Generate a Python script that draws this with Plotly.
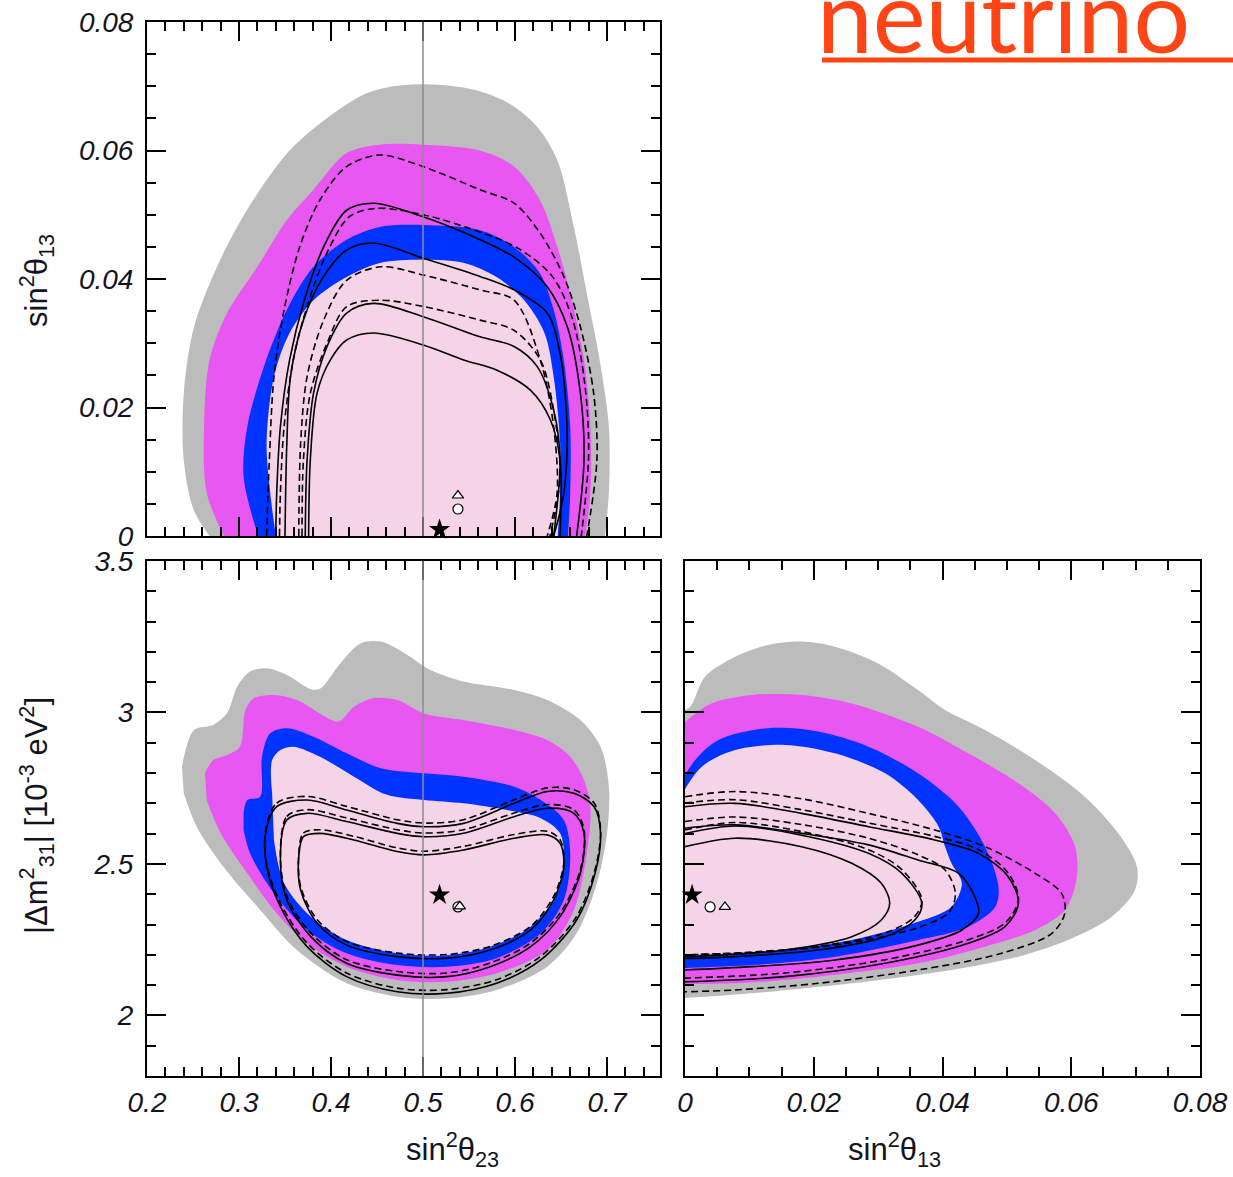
import plotly.graph_objects as go

# ---------------- colours ----------------
GRAY = "#bcbcbc"
MAGENTA = "#e957f2"
BLUE = "#0033ff"
PINK = "#f6d4e8"
LINE_GRAY = "#8c8c8c"
TITLE_RED = "#ff4416"

# ---------------- top-left panel: sin^2(theta23) vs sin^2(theta13) ----------------
tl_gray_x = [0.273, 0.251, 0.240, 0.240, 0.251, 0.278, 0.312, 0.355, 0.400, 0.440, 0.480, 0.520, 0.560, 0.595, 0.624, 0.646, 0.664, 0.678, 0.692, 0.702, 0.702, 0.697]
tl_gray_y = [-0.001, 0.004, 0.0118, 0.0223, 0.0325, 0.0425, 0.0515, 0.0600, 0.0655, 0.0690, 0.0702, 0.0702, 0.0693, 0.0672, 0.0637, 0.0585, 0.0481, 0.0378, 0.0274, 0.017, 0.0067, -0.001]
tl_mag_x = [0.287, 0.265, 0.262, 0.268, 0.287, 0.320, 0.352, 0.381, 0.417, 0.453, 0.500, 0.562, 0.599, 0.627, 0.646, 0.660, 0.675, 0.682, 0.682, 0.675]
tl_mag_y = [-0.001, 0.0067, 0.017, 0.0274, 0.0347, 0.0419, 0.0492, 0.0539, 0.0596, 0.0609, 0.0609, 0.060, 0.0575, 0.0523, 0.045, 0.0378, 0.0274, 0.017, 0.0067, -0.001]
tl_blue_x = [0.323, 0.305, 0.309, 0.327, 0.352, 0.381, 0.417, 0.453, 0.500, 0.562, 0.599, 0.627, 0.642, 0.653, 0.660, 0.660, 0.657]
tl_blue_y = [-0.001, 0.0092, 0.017, 0.0263, 0.0352, 0.0419, 0.0461, 0.0481, 0.0484, 0.0476, 0.045, 0.0409, 0.0352, 0.0274, 0.017, 0.0067, -0.001]
tl_pink_x = [0.341, 0.334, 0.330, 0.338, 0.355, 0.381, 0.417, 0.453, 0.500, 0.545, 0.580, 0.610, 0.632, 0.642, 0.649, 0.649, 0.646]
tl_pink_y = [-0.001, 0.0067, 0.0145, 0.0248, 0.0316, 0.0367, 0.0403, 0.0425, 0.043, 0.0425, 0.0403, 0.0367, 0.0316, 0.0248, 0.0145, 0.0067, -0.001]

# contour lines
tl_c1_x = [0.330, 0.333, 0.338, 0.349, 0.366, 0.388, 0.417, 0.453, 0.500, 0.562, 0.599, 0.6275, 0.653, 0.671, 0.6855, 0.689, 0.678]
tl_c1_y = [0.0, 0.0118, 0.0248, 0.0352, 0.045, 0.0523, 0.0575, 0.0593, 0.0575, 0.0539, 0.0518, 0.0471, 0.0404, 0.0326, 0.0222, 0.0118, 0.0]
tl_c2_x = [0.340, 0.341, 0.345, 0.355, 0.371, 0.392, 0.417, 0.447, 0.500, 0.545, 0.599, 0.635, 0.657, 0.671, 0.675, 0.667]
tl_c2_y = [0.0, 0.0067, 0.017, 0.0274, 0.0367, 0.045, 0.0507, 0.0518, 0.0497, 0.0472, 0.0434, 0.0388, 0.0325, 0.0223, 0.0118, 0.0]
tl_c2d_x = [0.344, 0.345, 0.349, 0.359, 0.375, 0.396, 0.420, 0.449, 0.500, 0.548, 0.603, 0.640, 0.662, 0.676, 0.680, 0.672]
tl_c2d_y = [0.0, 0.0067, 0.017, 0.0274, 0.0362, 0.0442, 0.0497, 0.0510, 0.0500, 0.0480, 0.0448, 0.0405, 0.0340, 0.0235, 0.0125, 0.0]
tl_c3_x = [0.350, 0.352, 0.356, 0.370, 0.392, 0.417, 0.446, 0.501, 0.562, 0.599, 0.635, 0.649, 0.6565, 0.653, 0.642]
tl_c3_y = [0.0, 0.0144, 0.0248, 0.0336, 0.0404, 0.0445, 0.0456, 0.0432, 0.0404, 0.0383, 0.0347, 0.0284, 0.017, 0.0066, 0.0]
tl_c4_x = [0.365, 0.367, 0.374, 0.392, 0.417, 0.454, 0.501, 0.562, 0.599, 0.6275, 0.642, 0.6457, 0.635]
tl_c4_y = [0.0, 0.0144, 0.0248, 0.0336, 0.0398, 0.0419, 0.0406, 0.0383, 0.0367, 0.0274, 0.017, 0.0066, 0.0]
tl_c5_x = [0.3685, 0.370, 0.3775, 0.3957, 0.417, 0.4536, 0.501, 0.562, 0.599, 0.6275, 0.642, 0.649, 0.638]
tl_c5_y = [0.0, 0.0118, 0.0222, 0.030, 0.0357, 0.0367, 0.0357, 0.0336, 0.032, 0.0274, 0.0196, 0.0092, 0.0]
tl_c6_x = [0.372, 0.374, 0.381, 0.3957, 0.417, 0.4464, 0.501, 0.562, 0.599, 0.624, 0.642, 0.649, 0.642]
tl_c6_y = [0.0, 0.0118, 0.0222, 0.0295, 0.0347, 0.0362, 0.0341, 0.031, 0.0295, 0.0264, 0.0196, 0.0118, 0.0]
tl_c7_x = [0.3757, 0.3775, 0.3848, 0.3993, 0.417, 0.4464, 0.501, 0.5442, 0.5804, 0.6167, 0.6384, 0.649, 0.649]
tl_c7_y = [0.0, 0.0118, 0.0222, 0.0274, 0.0305, 0.0316, 0.0297, 0.0274, 0.0258, 0.0227, 0.0181, 0.0118, 0.0]

# ---------------- bottom-left panel: sin^2(theta23) vs |dm^2_31| ----------------
bl_gray_x = [0.238, 0.251, 0.272, 0.287, 0.298, 0.312, 0.330, 0.352, 0.378, 0.388, 0.410, 0.432, 0.454, 0.483, 0.508, 0.544, 0.599, 0.635, 0.671, 0.693, 0.702, 0.700, 0.689, 0.667, 0.635, 0.580, 0.526, 0.472, 0.417, 0.363, 0.320, 0.283, 0.254, 0.240]
bl_gray_y = [2.821, 2.942, 2.959, 2.998, 3.085, 3.135, 3.146, 3.124, 3.077, 3.078, 3.162, 3.228, 3.234, 3.19, 3.140, 3.102, 3.074, 3.041, 2.975, 2.887, 2.755, 2.601, 2.436, 2.271, 2.161, 2.084, 2.056, 2.062, 2.106, 2.216, 2.359, 2.491, 2.623, 2.733]
bl_mag_x = [0.263, 0.272, 0.287, 0.301, 0.307, 0.316, 0.338, 0.363, 0.388, 0.408, 0.425, 0.446, 0.472, 0.501, 0.544, 0.599, 0.635, 0.660, 0.675, 0.682, 0.678, 0.664, 0.635, 0.580, 0.526, 0.472, 0.417, 0.374, 0.338, 0.309, 0.280, 0.265]
bl_mag_y = [2.799, 2.843, 2.860, 2.887, 3.008, 3.047, 3.058, 3.041, 2.997, 2.970, 3.019, 3.047, 3.041, 2.997, 2.975, 2.942, 2.909, 2.854, 2.777, 2.689, 2.535, 2.348, 2.216, 2.139, 2.111, 2.117, 2.161, 2.238, 2.348, 2.469, 2.601, 2.711]
bl_blue_x = [0.305, 0.309, 0.323, 0.325, 0.334, 0.352, 0.381, 0.417, 0.454, 0.501, 0.544, 0.599, 0.628, 0.653, 0.660, 0.653, 0.628, 0.580, 0.526, 0.472, 0.417, 0.374, 0.338, 0.312, 0.305]
bl_blue_y = [2.667, 2.711, 2.722, 2.854, 2.931, 2.948, 2.920, 2.865, 2.816, 2.799, 2.788, 2.755, 2.711, 2.645, 2.535, 2.381, 2.271, 2.189, 2.161, 2.166, 2.205, 2.282, 2.403, 2.535, 2.612]
bl_pink_x = [0.336, 0.336, 0.345, 0.359, 0.388, 0.425, 0.461, 0.501, 0.544, 0.591, 0.628, 0.649, 0.653, 0.646, 0.617, 0.573, 0.526, 0.472, 0.417, 0.378, 0.349, 0.338]
bl_pink_y = [2.733, 2.843, 2.876, 2.887, 2.854, 2.788, 2.728, 2.711, 2.700, 2.678, 2.651, 2.601, 2.513, 2.403, 2.293, 2.227, 2.199, 2.205, 2.249, 2.326, 2.436, 2.579]

bl_l1_x = [0.329, 0.341, 0.374, 0.417, 0.472, 0.501, 0.544, 0.599, 0.635, 0.664, 0.686, 0.693, 0.687, 0.667, 0.628, 0.580, 0.526, 0.472, 0.417, 0.374, 0.345, 0.330, 0.329]
bl_l1_y = [2.601, 2.689, 2.711, 2.678, 2.634, 2.623, 2.634, 2.700, 2.739, 2.733, 2.689, 2.601, 2.469, 2.315, 2.183, 2.106, 2.073, 2.078, 2.128, 2.227, 2.359, 2.491, 2.601]
bl_l2_x = [0.345, 0.352, 0.374, 0.417, 0.472, 0.501, 0.544, 0.599, 0.635, 0.664, 0.675, 0.671, 0.649, 0.617, 0.573, 0.526, 0.472, 0.417, 0.378, 0.352, 0.345]
bl_l2_y = [2.513, 2.645, 2.667, 2.640, 2.601, 2.590, 2.601, 2.656, 2.684, 2.667, 2.601, 2.469, 2.326, 2.227, 2.161, 2.128, 2.133, 2.172, 2.260, 2.381, 2.513]
bl_l3_x = [0.365, 0.370, 0.388, 0.425, 0.472, 0.501, 0.544, 0.599, 0.635, 0.649, 0.653, 0.642, 0.617, 0.573, 0.526, 0.472, 0.417, 0.385, 0.367, 0.365]
bl_l3_y = [2.524, 2.590, 2.601, 2.579, 2.541, 2.530, 2.546, 2.585, 2.596, 2.568, 2.491, 2.381, 2.282, 2.216, 2.189, 2.194, 2.232, 2.304, 2.414, 2.524]

# ---------------- bottom-right panel: sin^2(theta13) vs |dm^2_31| ----------------
br_gray_x = [-0.001, 0.0008, 0.0031, 0.0078, 0.0129, 0.0181, 0.0233, 0.030, 0.0362, 0.0404, 0.0466, 0.0544, 0.0621, 0.0673, 0.0702, 0.0699, 0.0663, 0.0595, 0.0518, 0.0414, 0.0259, 0.0104, -0.001]
br_gray_y = [3.00, 3.019, 3.118, 3.184, 3.223, 3.234, 3.217, 3.162, 3.074, 3.008, 2.942, 2.843, 2.722, 2.601, 2.491, 2.414, 2.326, 2.249, 2.194, 2.150, 2.106, 2.073, 2.056]
br_mag_x = [-0.001, 0.001, 0.0041, 0.0104, 0.0181, 0.0259, 0.0362, 0.044, 0.0518, 0.0575, 0.0606, 0.0608, 0.059, 0.0544, 0.0466, 0.0362, 0.0207, 0.0078, -0.001]
br_mag_y = [2.95, 2.986, 3.030, 3.058, 3.058, 3.030, 2.953, 2.865, 2.766, 2.667, 2.557, 2.447, 2.348, 2.282, 2.227, 2.172, 2.128, 2.106, 2.104]
br_blue_x = [-0.001, 0.0016, 0.0052, 0.0129, 0.0207, 0.0285, 0.0362, 0.0425, 0.0466, 0.0487, 0.0482, 0.044, 0.0362, 0.0233, 0.0104, -0.001]
br_blue_y = [2.755, 2.843, 2.909, 2.948, 2.937, 2.887, 2.799, 2.689, 2.557, 2.425, 2.359, 2.293, 2.249, 2.194, 2.166, 2.156]
br_pink_x = [-0.001, 0.0026, 0.0078, 0.0155, 0.0233, 0.0311, 0.0362, 0.0394, 0.0404, 0.0414, 0.043, 0.0414, 0.0362, 0.0259, 0.0129, -0.001]
br_pink_y = [2.711, 2.821, 2.876, 2.893, 2.865, 2.799, 2.711, 2.623, 2.557, 2.502, 2.436, 2.359, 2.309, 2.249, 2.210, 2.194]

br_a_x = [0.0, 0.0078, 0.0181, 0.0285, 0.0388, 0.0466, 0.0544, 0.0585, 0.059, 0.057, 0.0492, 0.0362, 0.0207, 0.0078, 0.0]
br_a_y = [2.722, 2.739, 2.715, 2.667, 2.612, 2.557, 2.469, 2.403, 2.337, 2.271, 2.205, 2.150, 2.106, 2.084, 2.078]
br_b_x = [0.0, 0.0078, 0.0181, 0.0285, 0.0388, 0.0456, 0.0502, 0.0518, 0.0497, 0.044, 0.0311, 0.0155, 0.0]
br_b_y = [2.689, 2.700, 2.667, 2.623, 2.579, 2.535, 2.458, 2.370, 2.293, 2.238, 2.172, 2.128, 2.111]
br_c_x = [0.0, 0.0078, 0.0181, 0.0285, 0.0362, 0.0425, 0.045, 0.0456, 0.043, 0.0362, 0.0233, 0.0104, 0.0]
br_c_y = [2.618, 2.629, 2.601, 2.563, 2.513, 2.469, 2.392, 2.337, 2.282, 2.232, 2.183, 2.161, 2.150]
br_d_x = [0.0, 0.0078, 0.0181, 0.0285, 0.0362, 0.0404, 0.042, 0.041, 0.0362, 0.0259, 0.0129, 0.0]
br_d_y = [2.640, 2.655, 2.630, 2.585, 2.530, 2.480, 2.403, 2.340, 2.290, 2.240, 2.210, 2.200]
br_e_x = [0.0, 0.0078, 0.0181, 0.0285, 0.0337, 0.0368, 0.0357, 0.0311, 0.0207, 0.0078, 0.0]
br_e_y = [2.600, 2.625, 2.595, 2.535, 2.469, 2.370, 2.315, 2.260, 2.216, 2.194, 2.188]
br_f_x = [0.0, 0.0078, 0.0181, 0.0259, 0.0305, 0.0318, 0.0305, 0.0259, 0.0155, 0.0052, 0.0]
br_f_y = [2.557, 2.585, 2.557, 2.502, 2.436, 2.370, 2.315, 2.260, 2.216, 2.199, 2.194]

# best-fit markers
tl_star = (0.518, 0.001)
tl_circle = (0.538, 0.0042)
tl_tri = (0.538, 0.0063)
bl_star = (0.518, 2.398)
bl_circle = (0.538, 2.358)
bl_tri = (0.540, 2.360)
br_star = (0.0011, 2.398)
br_circle = (0.0039, 2.358)
br_tri = (0.0062, 2.358)

REF_X = 0.5  # maximal mixing reference line

# ---------------- figure ----------------
fig = go.Figure()

def fill(x, y, color, xa, ya):
    fig.add_trace(go.Scatter(x=x, y=y, mode="lines", fill="toself", fillcolor=color,
                             line=dict(width=0, color=color, shape="spline", smoothing=0.9),
                             hoverinfo="skip", xaxis=xa, yaxis=ya))

def curve(x, y, dashed, xa, ya, dy=0.0):
    yy = [v + dy for v in y]
    fig.add_trace(go.Scatter(x=x, y=yy, mode="lines",
                             line=dict(width=1.6, color="black", shape="spline", smoothing=0.9,
                                       dash="7px,4px" if dashed else "solid"),
                             hoverinfo="skip", xaxis=xa, yaxis=ya))

def marks(star, circ, tri, xa, ya):
    fig.add_trace(go.Scatter(x=[circ[0]], y=[circ[1]], mode="markers", cliponaxis=False,
                             marker=dict(symbol="circle", size=10, color="white", line=dict(color="black", width=1.2)),
                             hoverinfo="skip", xaxis=xa, yaxis=ya))
    fig.add_trace(go.Scatter(x=[tri[0]], y=[tri[1]], mode="markers", cliponaxis=False,
                             marker=dict(symbol="triangle-up", size=10, color="white", line=dict(color="black", width=1.2)),
                             hoverinfo="skip", xaxis=xa, yaxis=ya))
    fig.add_trace(go.Scatter(x=[star[0]], y=[star[1]], mode="markers", cliponaxis=False,
                             marker=dict(symbol="star", size=16, color="black", line=dict(width=0)),
                             hoverinfo="skip", xaxis=xa, yaxis=ya))

# top-left
for (xs, ys, c) in [(tl_gray_x, tl_gray_y, GRAY), (tl_mag_x, tl_mag_y, MAGENTA),
                    (tl_blue_x, tl_blue_y, BLUE), (tl_pink_x, tl_pink_y, PINK)]:
    fill(xs, ys, c, "x", "y")
for (xs, ys, d) in [(tl_c1_x, tl_c1_y, True), (tl_c2_x, tl_c2_y, False), (tl_c2d_x, tl_c2d_y, True),
                    (tl_c3_x, tl_c3_y, False), (tl_c4_x, tl_c4_y, True), (tl_c5_x, tl_c5_y, True),
                    (tl_c6_x, tl_c6_y, False), (tl_c7_x, tl_c7_y, False)]:
    curve(xs, ys, d, "x", "y")
marks(tl_star, tl_circle, tl_tri, "x", "y")

# bottom-left
for (xs, ys, c) in [(bl_gray_x, bl_gray_y, GRAY), (bl_mag_x, bl_mag_y, MAGENTA),
                    (bl_blue_x, bl_blue_y, BLUE), (bl_pink_x, bl_pink_y, PINK)]:
    fill(xs, ys, c, "x2", "y2")
for (xs, ys) in [(bl_l1_x, bl_l1_y), (bl_l2_x, bl_l2_y), (bl_l3_x, bl_l3_y)]:
    curve(xs, ys, False, "x2", "y2")
    curve(xs, ys, True, "x2", "y2", dy=0.012)
marks(bl_star, bl_circle, bl_tri, "x2", "y2")

# bottom-right
for (xs, ys, c) in [(br_gray_x, br_gray_y, GRAY), (br_mag_x, br_mag_y, MAGENTA),
                    (br_blue_x, br_blue_y, BLUE), (br_pink_x, br_pink_y, PINK)]:
    fill(xs, ys, c, "x3", "y3")
for (xs, ys, d) in [(br_a_x, br_a_y, True), (br_b_x, br_b_y, False), (br_c_x, br_c_y, False),
                    (br_d_x, br_d_y, True), (br_e_x, br_e_y, False), (br_f_x, br_f_y, False)]:
    curve(xs, ys, d, "x3", "y3")
curve(br_b_x, br_b_y, True, "x3", "y3", dy=0.012)
curve(br_e_x, br_e_y, True, "x3", "y3", dy=0.012)
marks(br_star, br_circle, br_tri, "x3", "y3")

# ---------------- axes ----------------
W, H = 1233, 1177
def px_x(p): return p / W
def px_y(p): return 1 - p / H

TICKFONT = dict(family="Liberation Sans", size=28, color="#141420", style="italic")

def axis(**kw):
    a = dict(showline=True, linecolor="black", linewidth=2, mirror="ticks",
             ticks="inside", ticklen=19, tickwidth=1.5, tickcolor="black",
             showgrid=False, zeroline=False, tickfont=TICKFONT, automargin=False,
             ticklabeloverflow="allow",
             minor=dict(ticks="inside", ticklen=9, tickwidth=1.5, tickcolor="black", showgrid=False))
    a.update(kw)
    return a

left_dom = [px_x(147), px_x(660)]
right_dom = [px_x(685), px_x(1200)]
top_dom = [px_y(536), px_y(22)]
bot_dom = [px_y(1076), px_y(561)]

fig.update_layout(
    width=W, height=H, margin=dict(l=0, r=0, t=0, b=0, autoexpand=False),
    paper_bgcolor="white", plot_bgcolor="white", showlegend=False,
    xaxis=axis(domain=left_dom, range=[0.2, 0.7576], tick0=0.2, dtick=0.1, anchor="y",
               showticklabels=False, minor_dtick=0.02),
    yaxis=axis(domain=top_dom, range=[0, 0.08], tick0=0, dtick=0.02, anchor="x",
               minor_dtick=0.005, ticklabelstandoff=6),
    xaxis2=axis(domain=left_dom, range=[0.2, 0.7576], tick0=0.2, dtick=0.1, anchor="y2",
                minor_dtick=0.02, ticklabelstandoff=0),
    yaxis2=axis(domain=bot_dom, range=[1.8, 3.5], tick0=2, dtick=0.5, anchor="x2",
                minor_dtick=0.1, ticklabelstandoff=6),
    xaxis3=axis(domain=right_dom, range=[0, 0.08], tick0=0, dtick=0.02, anchor="y3",
                minor_dtick=0.005, ticklabelstandoff=0),
    yaxis3=axis(domain=bot_dom, range=[1.8, 3.5], tick0=2, dtick=0.5, anchor="x3",
                minor_dtick=0.1, showticklabels=False),
)

# reference lines at maximal mixing
for (xr, yr) in [("x", "y domain"), ("x2", "y2 domain")]:
    fig.add_shape(type="line", xref=xr, yref=yr, x0=REF_X, x1=REF_X, y0=0, y1=1,
                  line=dict(color=LINE_GRAY, width=1.5), layer="above")

TITLEFONT = dict(family="Liberation Sans", size=31, color="#141420")
fig.add_annotation(text="sin<sup>2</sup>θ<sub>23</sub>", xref="paper", yref="paper",
                   x=px_x(404), y=px_y(1174), showarrow=False, font=TITLEFONT)
fig.add_annotation(text="sin<sup>2</sup>θ<sub>13</sub>", xref="paper", yref="paper",
                   x=px_x(943), y=px_y(1174), showarrow=False, font=TITLEFONT)
fig.add_annotation(text="sin<sup>2</sup>θ<sub>13</sub>", xref="paper", yref="paper", textangle=-90,
                   x=px_x(12), y=px_y(232), showarrow=False, font=TITLEFONT)
fig.add_annotation(text="|Δm<sup>2</sup><sub>31</sub>| [10<sup>-3</sup> eV<sup>2</sup>]", xref="paper", yref="paper",
                   textangle=-90, x=px_x(12), y=px_y(936), showarrow=False, font=TITLEFONT)

# title word
fig.add_annotation(text="neutrino", xref="paper", yref="paper", x=px_x(815), y=px_y(14),
                   xanchor="left", yanchor="middle", showarrow=False,
                   font=dict(family="Lato", size=100, color=TITLE_RED))
fig.add_shape(type="line", xref="paper", yref="paper", x0=px_x(822), x1=1.0,
              y0=px_y(60), y1=px_y(60), line=dict(color=TITLE_RED, width=5))

fig.write_html("out.html", config={"displayModeBar": False},
               post_script="document.body.style.margin='0';document.body.style.overflow='hidden';")
